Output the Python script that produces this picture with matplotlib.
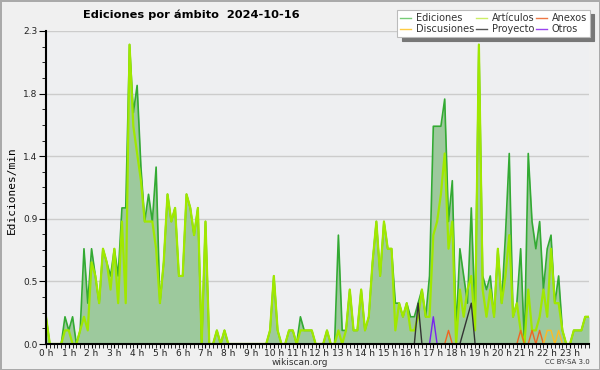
import numpy as np
import matplotlib.pyplot as plt
from matplotlib.ticker import FixedLocator, MultipleLocator

# ediciones por minuto, tramos de 10 minutos (144 por dia)
ediciones = [0.2, 0, 0, 0, 0, 0.2, 0.1, 0.2, 0, 0.1, 0.7, 0.3,
             0.7, 0.5, 0.3, 0.7, 0.6, 0.5, 0.7, 0.5, 1.0, 1.0, 2.2, 1.7,
             1.9, 1.3, 0.9, 1.1, 0.9, 1.3, 0.3, 0.6, 1.1, 0.9, 1.0, 0.5,
             0.5, 1.1, 1.0, 0.8, 1.0, 0, 0.9, 0, 0, 0.1, 0, 0.1,
             0, 0, 0, 0, 0, 0, 0, 0, 0, 0, 0, 0.1,
             0.5, 0.1, 0, 0, 0.1, 0.1, 0, 0.2, 0.1, 0.1, 0.1, 0,
             0, 0, 0.1, 0, 0, 0.8, 0.1, 0.1, 0.4, 0.1, 0.1, 0.4,
             0.1, 0.2, 0.6, 0.9, 0.5, 0.9, 0.7, 0.7, 0.3, 0.3, 0.2, 0.3,
             0.2, 0.2, 0.3, 0.4, 0.2, 0.5, 1.6, 1.6, 1.6, 1.8, 0.9, 1.2,
             0.1, 0.7, 0.5, 0.3, 1.0, 0.2, 2.2, 0.5, 0.4, 0.5, 0.2, 0.7,
             0.3, 0.8, 1.4, 0.2, 0.3, 0.7, 0, 1.4, 0.9, 0.7, 0.9, 0.4,
             0.7, 0.8, 0.3, 0.5, 0.1, 0, 0, 0.1, 0.1, 0.1, 0.2, 0.2]

articulos = [0.2, 0, 0, 0, 0, 0.1, 0.1, 0, 0, 0.1, 0.2, 0.1,
             0.6, 0.5, 0.3, 0.7, 0.6, 0.4, 0.7, 0.3, 0.9, 0.3, 2.2, 1.6,
             1.4, 1.2, 0.9, 0.9, 0.9, 0.7, 0.3, 0.6, 1.1, 0.9, 1.0, 0.5,
             0.5, 1.1, 1.0, 0.8, 1.0, 0, 0.9, 0, 0, 0.1, 0, 0.1,
             0, 0, 0, 0, 0, 0, 0, 0, 0, 0, 0, 0.1,
             0.5, 0.1, 0, 0, 0.1, 0.1, 0, 0.1, 0.1, 0.1, 0.1, 0,
             0, 0, 0.1, 0, 0, 0.1, 0, 0.1, 0.4, 0.1, 0.1, 0.4,
             0.1, 0.2, 0.6, 0.9, 0.5, 0.9, 0.7, 0.7, 0.1, 0.3, 0.2, 0.3,
             0.1, 0.1, 0.2, 0.4, 0.2, 0.2, 0.8, 0.9, 1.1, 1.4, 0.7, 0.9,
             0, 0.4, 0.2, 0.4, 0.5, 0.1, 2.2, 0.4, 0.2, 0.4, 0.2, 0.7,
             0.3, 0.5, 0.8, 0.2, 0.3, 0.1, 0, 0.4, 0.1, 0.1, 0.2, 0.4,
             0.2, 0.7, 0.3, 0.3, 0.1, 0, 0, 0.1, 0.1, 0.1, 0.2, 0.2]

anexos = [0] * 96 + [0, 0, 0, 0, 0, 0, 0, 0, 0, 0, 0.1, 0,
                     0, 0, 0, 0, 0, 0, 0, 0, 0, 0, 0, 0,
                     0, 0, 0, 0, 0, 0.1, 0, 0, 0.1, 0, 0.1, 0,
                     0, 0, 0, 0, 0, 0, 0, 0, 0, 0, 0, 0]

discusiones = [0] * 132 + [0.1, 0.1, 0, 0.1, 0, 0, 0, 0, 0, 0, 0, 0]

proyecto = [0] * 96 + [0, 0, 0.3, 0, 0, 0, 0, 0, 0, 0, 0, 0,
                       0, 0, 0.1, 0.2, 0.3, 0, 0, 0, 0, 0, 0, 0] + [0] * 24

otros = [0] * 96 + [0, 0, 0, 0, 0, 0, 0.2, 0, 0, 0, 0, 0] + [0] * 36

hour_labels = [str(h) + " h" for h in range(24)]
yticks = [0, 0.46, 0.92, 1.38, 1.84, 2.3]

t = np.arange(len(ediciones)) / 6.0

fig = plt.figure(figsize=(6, 3.7), dpi=100, facecolor='#f0f0f0',
                 edgecolor='#aaaaaa', linewidth=2)
ax = fig.add_axes([46/600, 1 - 344/370, 543/600, 313/370])
ax.set_facecolor('#eeeff1')

ax.yaxis.grid(True, color='#cccccc', lw=1)
ax.set_axisbelow(True)

ax.fill_between(t, ediciones, color='#9dc99d', lw=0, zorder=1.5)
l_ed, = ax.plot(t, ediciones, color='#33aa33', lw=1.2)
l_art, = ax.plot(t, articulos, color='#a0e800', lw=1.6)
l_anx, = ax.plot(t, anexos, color='#ee6622', lw=1)
l_dis, = ax.plot(t, discusiones, color='#ffbb22', lw=1)
l_pro, = ax.plot(t, proyecto, color='#333333', lw=1)
l_otr, = ax.plot(t, otros, color='#7722ee', lw=1)

ax.set_xlim(0, t[-1])
ax.set_ylim(0, 2.3)
ax.xaxis.set_major_locator(FixedLocator(range(24)))
ax.xaxis.set_minor_locator(MultipleLocator(1/6))
ax.set_xticklabels(hour_labels)
ax.yaxis.set_major_locator(FixedLocator(yticks))
ax.yaxis.set_minor_locator(MultipleLocator(0.115))
ax.set_yticklabels(["%.1f" % v for v in yticks])

for s in ['top', 'right']:
    ax.spines[s].set_visible(False)
for s in ['left', 'bottom']:
    ax.spines[s].set_linewidth(1.5)
    ax.spines[s].set_zorder(5)

ax.tick_params(axis='both', which='both', direction='out', colors='black',
               labelcolor='#222222', labelsize=6.5)
ax.tick_params(axis='x', which='both', length=3, pad=0.5)
ax.tick_params(axis='y', which='major', length=5, pad=1)
ax.tick_params(axis='y', which='minor', length=3)

fig.text(83/600, 1 - 15/370, 'Ediciones por ámbito  2024-10-16',
         fontsize=8.2, fontweight='bold', va='center', ha='left')
fig.text(12/600, 1 - 190/370, 'Ediciones/min', rotation=90,
         family='DejaVu Sans Mono', fontsize=8, va='center', ha='center')
fig.text(300/600, 1 - 362.5/370, 'wikiscan.org', fontsize=6.5,
         color='#333333', ha='center', va='center')
fig.text(590/600, 1 - 362.5/370, 'CC BY-SA 3.0', fontsize=5,
         color='#333333', ha='right', va='center')

labels = ['Ediciones', 'Discusiones', 'Artículos', 'Proyecto', 'Anexos', 'Otros']
leg_colors = ['#77cc77', '#ffcc44', '#ccee66', '#555555', '#ee7744', '#9944ee']
proxies = [plt.Line2D([], [], color=c, lw=1) for c in leg_colors]
leg = fig.legend(proxies, labels, ncol=3, loc='upper right',
                 bbox_to_anchor=(590/600, 1 - 10/370), borderaxespad=0,
                 fontsize=7, handlelength=1.1, handletextpad=0.5,
                 columnspacing=0.2, labelspacing=0.15, borderpad=0.3,
                 fancybox=False, framealpha=1, edgecolor='#bbbbbb',
                 shadow={'ox': 3, 'oy': -3, 'color': '#777777', 'alpha': 1})
leg.get_frame().set_linewidth(0.8)
for txt in leg.get_texts():
    txt.set_color('#333333')

fig.savefig('out.png', dpi=100)
